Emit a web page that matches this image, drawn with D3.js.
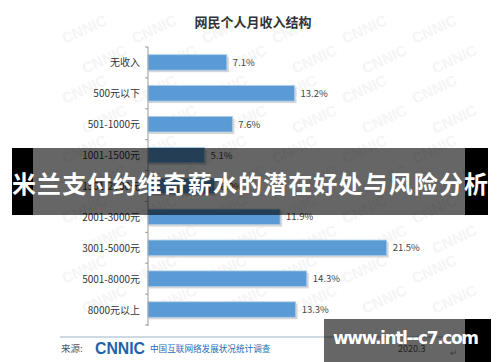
<!DOCTYPE html>
<html>
<head>
<meta charset="utf-8">
<title>网民个人月收入结构</title>
<script src="https://d3js.org/d3.v7.min.js"></script>
<style>
  body { margin: 0; background: #fff; }
  svg { display: block; font-family: "Noto Sans CJK SC", "Noto Sans", sans-serif; }
</style>
</head>
<body>
<div id="chart"></div>
<script>
// data (1501-2000元 is hidden by the banner; estimated)
var categories = ["无收入", "500元以下", "501-1000元", "1001-1500元", "1501-2000元",
                  "2001-3000元", "3001-5000元", "5001-8000元", "8000元以上"];
var shares = [7.1, 13.2, 7.6, 5.1, 6.0, 11.9, 21.5, 14.3, 13.3];
var title = "网民个人月收入结构";
var banner = "米兰支付约维奇薪水的潜在好处与风险分析";
var site = "www.intl--c7.com";

var W = 500, H = 362;
var svg = d3.select("#chart").append("svg")
  .attr("width", W).attr("height", H);

// very faint CNNIC watermarks in the background
var wm = svg.append("g").attr("fill", "#f5f5f5").attr("font-size", 15)
  .attr("font-weight", "bold").attr("font-family", "Arial, sans-serif");
for (var r = 0; r < 10; r++) {
  for (var c = 0; c < 6; c++) {
    wm.append("text")
      .attr("transform", "translate(" + (65 + c * 70 + (r % 2) * 20) + "," + (44 + r * 30) + ") rotate(-25)")
      .text("CNNIC");
  }
}

var x = d3.scaleLinear().domain([0, 25]).range([148, 425.5]);
var y = d3.scaleBand().domain(categories).range([47, 325]).paddingInner(0.5).paddingOuter(0.25);

svg.append("text")
  .attr("x", 253).attr("y", 27)
  .attr("text-anchor", "middle")
  .attr("font-size", 13).attr("font-weight", "bold").attr("fill", "#333")
  .text(title);

// bars with a soft shadow
var rows = svg.append("g").selectAll("g").data(categories).enter().append("g");
rows.append("rect")
  .attr("x", x(0) + 1)
  .attr("y", function (d) { return y(d) + 2; })
  .attr("width", function (d, i) { return x(shares[i]) - x(0) + 1; })
  .attr("height", y.bandwidth())
  .attr("fill", "#d6d6d6");
rows.append("rect")
  .attr("x", x(0))
  .attr("y", function (d) { return y(d); })
  .attr("width", function (d, i) { return x(shares[i]) - x(0); })
  .attr("height", y.bandwidth())
  .attr("fill", "#5b9bd5")
  .attr("stroke", "#a9cbe8").attr("stroke-width", 0.8);
rows.append("text")
  .attr("x", function (d, i) { return x(shares[i]) + 6; })
  .attr("y", function (d) { return y(d) + y.bandwidth() / 2 + 3.5; })
  .attr("font-size", 9.5).attr("fill", "#444")
  .text(function (d, i) { return shares[i].toFixed(1) + "%"; });

// vertical axis with ticks between bands
var axis = svg.append("g");
axis.append("line")
  .attr("x1", x(0)).attr("x2", x(0)).attr("y1", 47).attr("y2", 326)
  .attr("stroke", "#999");
var bounds = categories.map(function (d) { return y(d) - y.step() * y.paddingInner() / 2; });
bounds.push(325);
axis.selectAll(".tk").data(bounds).enter().append("line")
  .attr("x1", x(0) - 3).attr("x2", x(0))
  .attr("y1", function (d) { return d; }).attr("y2", function (d) { return d; })
  .attr("stroke", "#999");
axis.selectAll(".lbl").data(categories).enter().append("text")
  .attr("x", 140)
  .attr("y", function (d) { return y(d) + y.bandwidth() / 2 + 4; })
  .attr("text-anchor", "end")
  .attr("font-size", 10).attr("fill", "#333")
  .text(function (d) { return d; });

// source footer
svg.append("line").attr("x1", 60).attr("x2", 450).attr("y1", 337).attr("y2", 337)
  .attr("stroke", "#9db3c8").attr("stroke-width", 1);
svg.append("text").attr("x", 61).attr("y", 352).attr("font-size", 9.5).attr("fill", "#555")
  .text("来源:");
svg.append("text").attr("x", 95).attr("y", 354)
  .attr("font-family", "Arial, 'Liberation Sans', sans-serif")
  .attr("font-size", 17).attr("font-weight", "bold").attr("fill", "#1f63ad")
  .attr("textLength", 50).attr("lengthAdjust", "spacingAndGlyphs")
  .text("CNNIC");
svg.append("text").attr("x", 150).attr("y", 352).attr("font-size", 8.6).attr("fill", "#2a6bb3")
  .text("中国互联网络发展状况统计调查");
svg.append("text").attr("x", 398).attr("y", 352).attr("font-size", 9).attr("fill", "#555")
  .text("2020.3");
svg.append("text").attr("x", 450).attr("y", 356).attr("font-size", 9).attr("fill", "#999")
  .text("↵");

// banner overlay: translucent centre, black side strips
svg.append("rect").attr("x", 33).attr("y", 148).attr("width", 432).attr("height", 67).attr("fill", "rgba(0,0,0,0.6)");
svg.append("rect").attr("x", 12).attr("y", 148).attr("width", 21).attr("height", 67).attr("fill", "#000");
svg.append("rect").attr("x", 465).attr("y", 148).attr("width", 23).attr("height", 67).attr("fill", "#000");
svg.append("text").attr("x", 250).attr("y", 193)
  .attr("text-anchor", "middle").attr("font-size", 24).attr("font-weight", "bold")
  .attr("fill", "#fff").attr("textLength", 476)
  .text(banner);

// site watermark
svg.append("rect").attr("x", 324).attr("y", 319).attr("width", 141).attr("height", 43).attr("fill", "rgba(0,0,0,0.6)");
svg.append("rect").attr("x", 465).attr("y", 319).attr("width", 26).attr("height", 43).attr("fill", "#000");
svg.append("text").attr("x", 406).attr("y", 344)
  .attr("text-anchor", "middle")
  .attr("font-family", "'DejaVu Sans', 'Open Sans', sans-serif")
  .attr("font-size", 17).attr("font-weight", "bold").attr("fill", "#fff")
  .attr("textLength", 146)
  .text(site);
</script>
</body>
</html>
